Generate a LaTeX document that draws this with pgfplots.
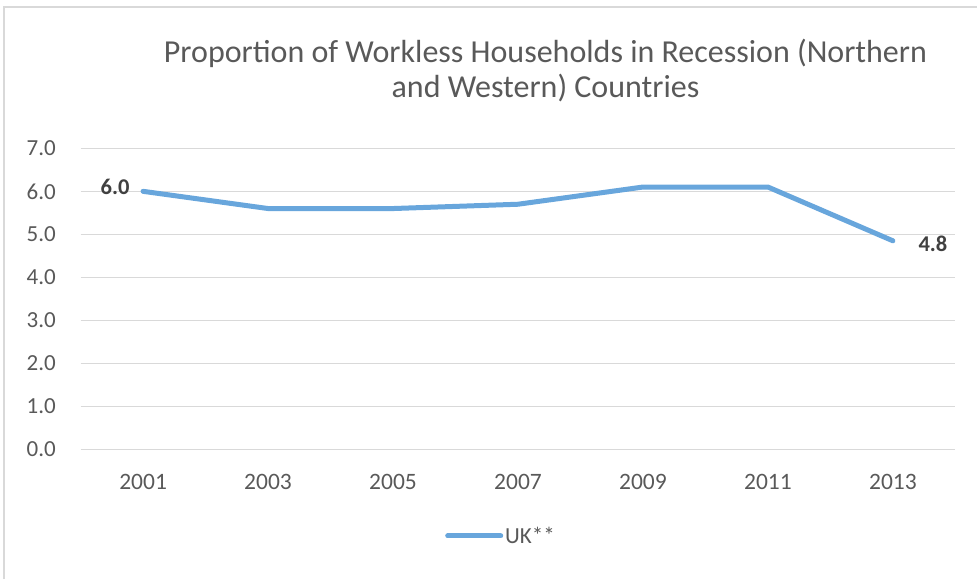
\documentclass[border=0pt]{standalone}
\usepackage{pgfplots}
\pgfplotsset{compat=1.18}
\usepackage{fontspec}
\setmainfont{Carlito}
\definecolor{lineblue}{RGB}{104,166,220}
\definecolor{gridgray}{RGB}{217,217,217}
\definecolor{ticktext}{RGB}{89,89,89}
\definecolor{labeltext}{RGB}{64,64,64}
\begin{document}
\begin{tikzpicture}[x=1pt,y=1pt]
\path[use as bounding box] (0,0) rectangle (977,579);
\draw[gridgray, line width=1.5pt] (4,0) -- (4,572) -- (977,572);
\node[align=center, text=ticktext, font=\fontsize{32}{35}\selectfont] at (545.5,508) {Proportion of Workless Households in Recession (Northern\\and Western) Countries};
\begin{axis}[
  at={(80.6pt,129.5pt)}, anchor=south west,
  scale only axis, width=874.8pt, height=301.2pt,
  xmin=-0.5, xmax=6.5, ymin=0, ymax=7,
  axis line style={draw=none},
  tick style={draw=none},
  xtick={0,1,2,3,4,5,6},
  xticklabels={2001,2003,2005,2007,2009,2011,2013},
  ytick={0,1,2,3,4,5,6,7},
  yticklabel={\pgfmathprintnumber[fixed,fixed zerofill,precision=1]{\tick}},
  /pgf/number format/assume math mode=true,
  ymajorgrids, major grid style={gridgray, line width=1.2pt},
  xticklabel style={anchor=center, inner sep=0pt, yshift=-32.2pt, text=ticktext, font=\fontsize{23.5}{26}\selectfont},
  yticklabel style={anchor=east, inner sep=0pt, xshift=-24.6pt, text=ticktext, font=\fontsize{23}{26}\selectfont},
  legend style={at={(0.4806,-0.287)}, anchor=center, draw=none, fill=none, inner sep=0pt,
    font=\fontsize{23}{26}\selectfont, text=ticktext,
    cells={anchor=west, inner sep=1pt}},
  legend image code/.code={\draw[lineblue, line width=5pt, line cap=round] (0pt,0pt) -- (53pt,0pt);},
  clip=false,
]
\addplot[lineblue, line width=5pt, line cap=round, line join=round, mark=none]
  coordinates {(0,6.0) (1,5.6) (2,5.6) (3,5.7) (4,6.1) (5,6.1) (6,4.85)};
\addlegendentry{UK**}
\addplot[draw=none, mark=none, forget plot, point meta=explicit symbolic,
  nodes near coords, every node near coord/.style={anchor=center, xshift=-28pt, yshift=4pt, text=labeltext, font=\bfseries\fontsize{22.5}{26}\selectfont}]
  coordinates {(0,6.0) [6.0]};
\addplot[draw=none, mark=none, forget plot, point meta=explicit symbolic,
  nodes near coords, every node near coord/.style={anchor=center, xshift=40pt, yshift=-3pt, text=labeltext, font=\bfseries\fontsize{22.5}{26}\selectfont}]
  coordinates {(6,4.85) [4.8]};
\end{axis}
\end{tikzpicture}
\end{document}
